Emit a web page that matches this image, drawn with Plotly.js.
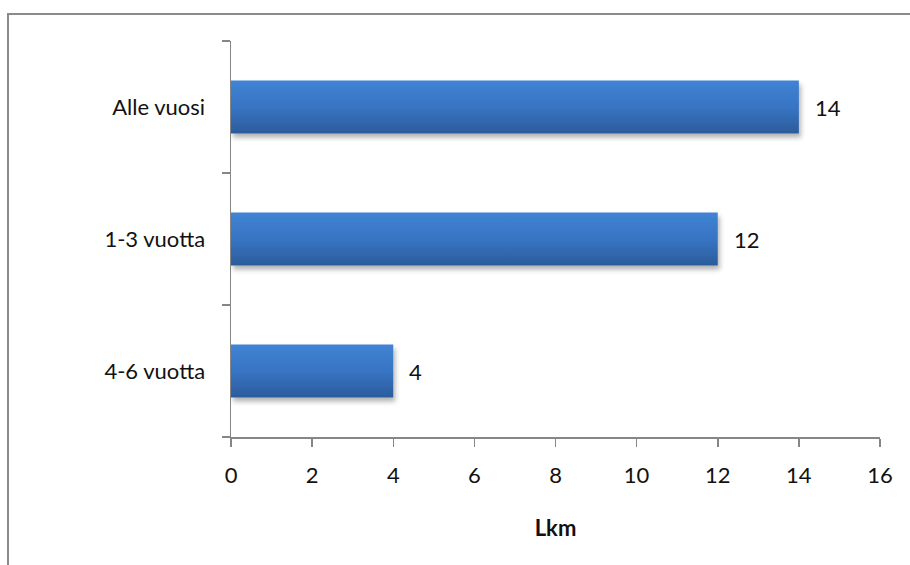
<!DOCTYPE html>
<html>
<head>
<meta charset="utf-8">
<script src="https://cdn.plot.ly/plotly-3.0.1.min.js"></script>
<style>
  html, body { margin: 0; padding: 0; background: #ffffff; }
  #wrap { position: relative; width: 910px; height: 565px; overflow: hidden; }
  #chart { position: absolute; left: 0; top: 0; width: 910px; height: 565px; }
  #frame {
    position: absolute; left: 7px; top: 13px; width: 920px; height: 570px;
    border-left: 2px solid #8a8a8a; border-top: 2px solid #8a8a8a;
    pointer-events: none;
  }
</style>
</head>
<body>
<div id="wrap">
  <div id="chart"></div>
  <div id="frame"></div>
</div>
<script>
// Durations, listed bottom to top as Plotly draws a horizontal category axis
const categories = ['4-6 vuotta', '1-3 vuotta', 'Alle vuosi'];
const counts = [4, 12, 14];
const xTicks = [0, 2, 4, 6, 8, 10, 12, 14, 16];

const FONT = 'Lato, "Open Sans", sans-serif';
const AXIS_GREY = '#868686';
const TEXT = '#111111';

const trace = {
  type: 'bar',
  orientation: 'h',
  y: categories,
  x: counts,
  width: 0.4,
  marker: { color: '#3870bd', line: { width: 0 } },
  hoverinfo: 'skip'
};

// value labels to the right of each bar
const annotations = categories.map((c, i) => ({
  x: counts[i], y: c, xref: 'x', yref: 'y',
  text: String(counts[i]), showarrow: false,
  xanchor: 'left', yanchor: 'middle', xshift: 14,
  font: { family: FONT, size: 22, color: TEXT }
}));

const layout = {
  width: 910, height: 565,
  margin: { l: 231, r: 30, t: 41, b: 128 },
  paper_bgcolor: '#ffffff', plot_bgcolor: '#ffffff',
  showlegend: false,
  bargap: 0.6,
  xaxis: {
    range: [0, 16],
    tickvals: xTicks,
    ticktext: xTicks.map(String),
    showgrid: false, zeroline: false,
    showline: true, linecolor: AXIS_GREY, linewidth: 1.5,
    ticks: 'outside', ticklen: 8, tickwidth: 1.5, tickcolor: AXIS_GREY,
    ticklabelstandoff: 10,
    tickfont: { family: FONT, size: 22, color: TEXT },
    title: { text: '<b>Lkm</b>', standoff: 33, font: { family: FONT, size: 22, color: TEXT } },
    fixedrange: true
  },
  yaxis: {
    type: 'category',
    range: [-0.5, 2.5],
    showgrid: false, zeroline: false,
    showline: true, linecolor: AXIS_GREY, linewidth: 1.5,
    ticks: 'outside', tickson: 'boundaries', ticklen: 8, tickwidth: 1.5, tickcolor: AXIS_GREY,
    ticklabelstandoff: 20,
    tickfont: { family: FONT, size: 22, color: TEXT },
    fixedrange: true
  },
  annotations: annotations
};

// Vertical blue gradient and a soft drop shadow on the bars
function styleBars(gd) {
  const svg = gd.querySelector('svg.main-svg');
  if (!svg) return;
  const ns = 'http://www.w3.org/2000/svg';
  let defs = svg.querySelector('defs');
  if (!defs) { defs = document.createElementNS(ns, 'defs'); svg.insertBefore(defs, svg.firstChild); }
  if (!defs.querySelector('#barGrad')) {
    const g = document.createElementNS(ns, 'linearGradient');
    g.setAttribute('id', 'barGrad');
    g.setAttribute('x1', '0'); g.setAttribute('y1', '0');
    g.setAttribute('x2', '0'); g.setAttribute('y2', '1');
    [['0', '#4083d4'], ['0.5', '#3874c3'], ['1', '#2b5c9b']].forEach(([o, c]) => {
      const s = document.createElementNS(ns, 'stop');
      s.setAttribute('offset', o); s.setAttribute('stop-color', c);
      g.appendChild(s);
    });
    defs.appendChild(g);
    const f = document.createElementNS(ns, 'filter');
    f.setAttribute('id', 'barShadow');
    f.setAttribute('x', '-10%'); f.setAttribute('y', '-20%');
    f.setAttribute('width', '120%'); f.setAttribute('height', '160%');
    const ds = document.createElementNS(ns, 'feDropShadow');
    ds.setAttribute('dx', '2'); ds.setAttribute('dy', '4');
    ds.setAttribute('stdDeviation', '2.5');
    ds.setAttribute('flood-color', '#000000');
    ds.setAttribute('flood-opacity', '0.3');
    f.appendChild(ds);
    defs.appendChild(f);
  }
  gd.querySelectorAll('.barlayer .point path').forEach(p => {
    p.style.fill = 'url(#barGrad)';
    p.setAttribute('filter', 'url(#barShadow)');
  });
}

const gd = document.getElementById('chart');
Plotly.newPlot(gd, [trace], layout, { displayModeBar: false, staticPlot: true }).then(() => {
  styleBars(gd);
  gd.on && gd.on('plotly_afterplot', () => styleBars(gd));
});
</script>
</body>
</html>
